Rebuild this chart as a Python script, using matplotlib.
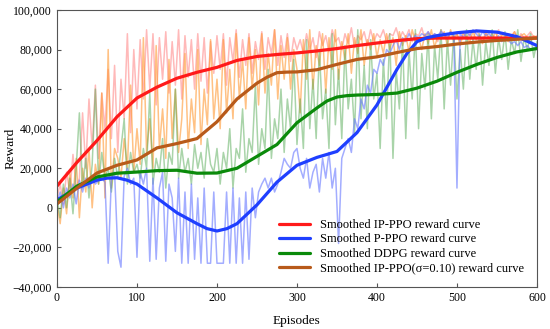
import matplotlib
matplotlib.use('Agg')
import matplotlib.pyplot as plt
import matplotlib.ticker as mticker
import numpy as np

plt.rcParams['font.family'] = ['Liberation Serif', 'DejaVu Serif']

# raw rewards (in thousands), one value every 4 episodes
ep_raw = np.arange(0, 601, 4)

ippo_raw = [5, 12, 2, 18, 8, 27, 10, 15,
            48, 20, 55, 30, 62, 25, 58, 40, 70, 35, 72, 28, 65, 45, 88, 38, 80, 50,
            85, 55, 90, 60, 88, 52, 86, 65, 89, 58, 84, 62, 90, 55, 87, 66, 85, 60, 88, 64, 86, 58, 84, 68, 87,
            70, 88, 62, 86, 74, 90, 66, 85, 72, 88, 68, 84, 75, 89, 70, 86, 78, 90, 72, 87, 76, 88, 74, 86, 80,
            85, 78, 88, 80, 86, 76, 89, 82, 87, 79, 90, 84, 86, 80, 88, 83, 91, 81, 87, 85, 89, 82, 90, 84, 88,
            86, 90, 84, 88, 87, 91, 85, 89, 86, 90, 84, 88, 87, 91, 85, 89, 86, 88, 84, 90, 87, 85, 89, 86, 88,
            84, 89, 86, 88, 85, 90, 87, 84, 89, 86, 88, 85, 90, 86, 84, 88, 87, 89, 85, 88, 86, 87, 89, 86, 87]

sigma_raw = [2, -8, 10, -3, 18, 5, 25, -5, 20, 8, 30, 0, 22, 12, 58, 5,
             80, 10, 30, 25, 15, 35, 20, 62, 18, 40,
             22, 86, 28, 45, 20, 82, 30, 50, 25, 75, 35, 60, 28, 45, 78, 30, 55, 38, 80, 32, 60, 42, 85, 45, 65,
             40, 85, 48, 70, 45, 88, 55, 75, 50, 86, 60, 80, 52, 88, 58, 78, 62, 90, 55, 82, 65, 86, 60, 80, 70,
             48, 85, 65, 90, 60, 82, 72, 88, 58, 86, 70, 90, 65, 84, 75, 88, 68, 86, 78, 90, 72, 85, 80, 88, 76,
             85, 78, 88, 80, 86, 72, 89, 82, 87, 79, 90, 84, 86, 80, 88, 83, 90, 81, 87, 85, 89, 82, 90, 84, 88,
             82, 88, 86, 84, 89, 85, 87, 83, 88, 86, 84, 89, 85, 87, 88, 84, 86, 89, 85, 87, 88, 86, 84, 87, 86]

ddpg_raw = [5, -5, 12, 0, 15, -3, 20, 48, 10, 25, 5, 22, 60, 12, 28, 15,
            20, 8, 25, 15, 30, 45, 12, 28, 18, 22,
            15, 30, 20, 58, 12, 25, 18, 35, 10, 28, 22, 60, 15, 30, 18, 25, 12, 32, 20, 28, 15, 35, 22, 18, 30,
            12, 28, 20, 40, 10, 30, 25, 50, 18, 35, 28, 62, 22, 40, 30, 70, 25, 45, 35, 60, 28, 55, 40, 75, 32,
            55, 30, 85, 40, 65, 35, 80, 45, 60, 30, 88, 42, 70, 35, 82, 50, 65, 38, 90, 45, 72, 40, 85, 55, 68,
            30, 75, 45, 88, 25, 70, 50, 85, 35, 80, 55, 90, 40, 78, 60, 88, 45, 82, 65, 90, 50, 85, 62, 88, 55,
            80, 60, 90, 65, 85, 70, 88, 62, 84, 72, 90, 68, 86, 75, 89, 70, 85, 78, 90, 74, 86, 80, 88, 76, 84]

pppo_raw = [3, 8, 0, 10, 5, 12, 2, 14, 8, 15, 10, 16, 12, 14, 15, 13,
            -28, 15, 18, -22, -30, 16, 20, 12, 15, -25,
            18, 12, 20, -27, 15, -26, 10, 18, -27, 12, 5, -22, 15, -28, 8, -28, 12, -26, 5, -28, 10, -28, -28, 8, -28,
            -28, -28, 8, -28, 10, -28, 5, -28, 8, -26, 10, -5, 8, 12, 15, 10, 15, 8, 12, 18, 25, 22, 20, 28, 30,
            20, 15, 25, 10, 18, 22, 8, 25, 15, 28, 10, 20, -18, 25, 30, 35, 28, 45, 40, 55, 50, 62, 58, 70, 68,
            75, 72, 80, 78, 82, 85, 80, 86, 84, 88, 85, 87, 86, 88, 87, 89, 86, 88, 87, 89, 88, 86, 89, 87, 10,
            88, 86, 89, 87, 90, 88, 86, 89, 87, 88, 86, 85, 87, 84, 86, 85, 83, 84, 82, 84, 81, 82, 80, 81, 80]

# smoothed curves (in thousands)
ippo_ep = [0, 25, 50, 75, 100, 125, 150, 175, 200, 225, 250, 275, 300, 325, 350, 375, 400, 425, 450, 475, 500, 550, 600]
ippo_s = [11, 23, 34, 46, 55.5, 61, 65.5, 68.5, 71, 74.5, 76.5, 77.5, 78.3, 79.3, 80.5, 82, 83.3, 84.5, 85.5, 85.8, 85.8, 85.8, 85.8]

pppo_ep = [0, 25, 50, 62.5, 75, 87.5, 100, 125, 150, 175, 187.5, 200, 212.5, 225, 250, 275, 300, 325, 350,
           375, 400, 412.5, 425, 437.5, 450, 462.5, 475, 500, 525, 550, 575, 600]
pppo_s = [4, 10, 14, 15, 15.2, 14, 12, 5, -2.5, -8, -10.5, -11.7, -10.5, -8, 1.5, 13, 21.5, 25.5, 28.5,
          38, 52, 61, 70, 78, 84, 86, 87, 88.5, 89.4, 88.8, 86.5, 82]

ddpg_ep = [0, 25, 50, 75, 100, 125, 150, 175, 200, 225, 250, 275, 300, 325, 337.5, 350, 362.5, 375, 400,
           425, 450, 475, 500, 525, 550, 575, 600]
ddpg_s = [3, 11, 15.6, 17.5, 18.1, 18.8, 19, 17.5, 17.6, 20, 26, 32, 43, 50.5, 54, 56, 56.7, 57, 57.3,
          58, 60.5, 64, 68.5, 72.5, 76, 78.8, 80.5]

sigma_ep = [0, 25, 50, 75, 100, 125, 150, 175, 200, 225, 250, 262.5, 275, 287.5, 300, 325, 350, 375, 400,
            425, 450, 475, 500, 525, 550, 575, 600]
sigma_s = [2, 10, 17.6, 21.5, 24.2, 30.3, 32.5, 35, 43.5, 55, 63, 66, 68.3, 68.6, 68.7, 69.8, 72.5, 75, 76.3,
           78.5, 80.5, 81.5, 82.8, 83.8, 84.6, 85.2, 85.8]

fig = plt.figure(figsize=(5.5, 3.29), dpi=100)
ax = fig.add_axes([0.1036, 0.1277, 0.8727, 0.842])

k = 1000
ax.plot(ep_raw, np.array(ippo_raw) * k, color='#ff8080', alpha=0.55, lw=1.1)
ax.plot(ep_raw, np.array(sigma_raw) * k, color='#ff9933', alpha=0.6, lw=1.1)
ax.plot(ep_raw, np.array(ddpg_raw) * k, color='#55aa55', alpha=0.5, lw=1.1)
ax.plot(ep_raw, np.array(pppo_raw) * k, color='#6677ff', alpha=0.6, lw=1.1)

style = dict(lw=2.3, solid_joinstyle='round', solid_capstyle='round')
ax.plot(ippo_ep, np.array(ippo_s) * k, color='#ff1a1a', label='Smoothed IP-PPO reward curve', **style)
ax.plot(pppo_ep, np.array(pppo_s) * k, color='#1f3fff', label='Smoothed P-PPO reward curve', **style)
ax.plot(ddpg_ep, np.array(ddpg_s) * k, color='#0a8a0a', label='Smoothed DDPG reward curve', **style)
ax.plot(sigma_ep, np.array(sigma_s) * k, color='#b85a1a', label='Smoothed IP-PPO(\u03c3=0.10) reward curve', **style)

ax.set_xlim(0, 600)
ax.set_ylim(-40000, 100000)
ax.set_xticks(range(0, 601, 100))
ax.set_yticks(range(-40000, 100001, 20000))
ax.yaxis.set_major_formatter(mticker.FuncFormatter(
    lambda v, p: ('\u2212' if v < 0 else '') + f"{abs(v):,.0f}"))
ax.tick_params(direction='in', labelsize=8.5, length=3, color='#555555')
for s in ax.spines.values():
    s.set_color('#555555')
ax.set_xlabel('Episodes', fontsize=9.5)
ax.xaxis.set_label_coords(0.5, -0.1)
ax.set_ylabel('Reward', fontsize=9.5)
ax.yaxis.set_label_coords(-0.085, 0.5)

ax.legend(loc='lower right', frameon=False, fontsize=9, handlelength=2.5,
          labelspacing=0.2, borderaxespad=0.6)

fig.savefig('out.png', dpi=100)
